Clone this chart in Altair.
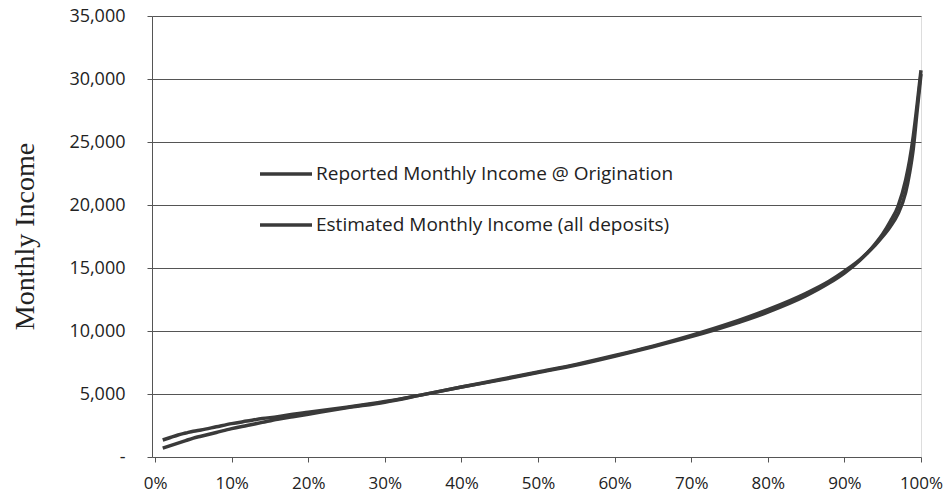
import altair as alt
import pandas as pd

# Percentile of borrowers (fraction) and monthly income at that percentile
pct = [0.01, 0.02, 0.03, 0.04, 0.05, 0.06, 0.08, 0.10, 0.12, 0.14, 0.16, 0.18,
       0.20, 0.25, 0.30, 0.35, 0.40, 0.45, 0.50, 0.55, 0.60, 0.65, 0.70, 0.75,
       0.80, 0.85, 0.88, 0.90, 0.92, 0.93, 0.94, 0.95, 0.96, 0.97, 0.98, 0.985,
       0.99, 0.995, 1.00]

reported = [1350, 1550, 1750, 1900, 2050, 2150, 2400, 2650, 2850, 3050, 3200, 3400,
            3550, 3950, 4400, 4950, 5550, 6100, 6700, 7300, 8000, 8750, 9550, 10450,
            11500, 12800, 13800, 14600, 15600, 16200, 16900, 17700, 18700, 19900, 22000, 23500,
            25500, 28000, 30700]

estimated = [700, 900, 1100, 1300, 1500, 1650, 1950, 2250, 2500, 2750, 3000, 3200,
             3400, 3900, 4350, 4950, 5550, 6150, 6750, 7350, 8050, 8800, 9650, 10600,
             11700, 13000, 13950, 14750, 15650, 16200, 16800, 17500, 18300, 19300, 21000, 22500,
             24500, 27500, 30400]

series_names = ["Reported Monthly Income @ Origination",
                "Estimated Monthly Income (all deposits)"]

y_ticks = [0, 5000, 10000, 15000, 20000, 25000, 30000, 35000]
x_ticks = [0, 0.1, 0.2, 0.3, 0.4, 0.5, 0.6, 0.7, 0.8, 0.9, 1.0]

rows = []
for p, r, e in zip(pct, reported, estimated):
    rows.append({"pct": p, "income": r, "series": series_names[0]})
    rows.append({"pct": p, "income": e, "series": series_names[1]})
df = pd.DataFrame(rows)

LINE = "#3a3a3a"
GRID = "#555555"
TEXT = "#222222"
SANS = "Open Sans"

chart = (
    alt.Chart(df)
    .mark_line(strokeWidth=3.5, interpolate="monotone")
    .encode(
        x=alt.X(
            "pct:Q",
            scale=alt.Scale(domain=[-0.004, 1.0], nice=False, zero=False),
            axis=alt.Axis(
                values=x_ticks,
                format=".0%",
                grid=False,
                title=None,
                domain=False,
                tickSize=5,
                tickColor=GRID,
                labelPadding=13,
                labelFont=SANS,
                labelFontSize=17,
                labelColor=TEXT,
                labelFlush=False,
            ),
        ),
        y=alt.Y(
            "income:Q",
            scale=alt.Scale(domain=[0, 35000], nice=False),
            axis=alt.Axis(
                values=y_ticks,
                labelExpr="datum.value == 0 ? '-' : format(datum.value, ',')",
                grid=True,
                gridColor=GRID,
                gridWidth=1,
                domain=True,
                domainColor=GRID,
                tickSize=5,
                tickColor=GRID,
                labelPadding=22,
                labelFont=SANS,
                labelFontSize=18,
                labelColor=TEXT,
                title="Monthly Income",
                titleFont="Liberation Serif",
                titleFontSize=28,
                titleFontWeight="normal",
                titleColor=TEXT,
                titleAngle=-90,
                titleX=-127,
                titleY=220,
                titleAlign="center",
                titleBaseline="middle",
            ),
        ),
        color=alt.Color(
            "series:N",
            scale=alt.Scale(domain=series_names, range=[LINE, LINE]),
            sort=series_names,
            legend=alt.Legend(
                title=None,
                orient="none",
                legendX=106,
                legendY=130,
                symbolType="stroke",
                symbolSize=2704,
                symbolStrokeWidth=3.5,
                symbolStrokeColor=LINE,
                labelFont=SANS,
                labelFontSize=19,
                labelColor=TEXT,
                labelLimit=0,
                labelOffset=2,
                rowPadding=13,
                padding=0,
            ),
        ),
    )
    .properties(
        width=769,
        height=441,
        autosize=alt.AutoSizeParams(type="none"),
        padding={"left": 152, "top": 16, "right": 24, "bottom": 41},
    )
    .configure_view(stroke=None)
    .configure(background="white")
)

chart.save("out.html", embed_options={"renderer": "svg", "actions": False})
